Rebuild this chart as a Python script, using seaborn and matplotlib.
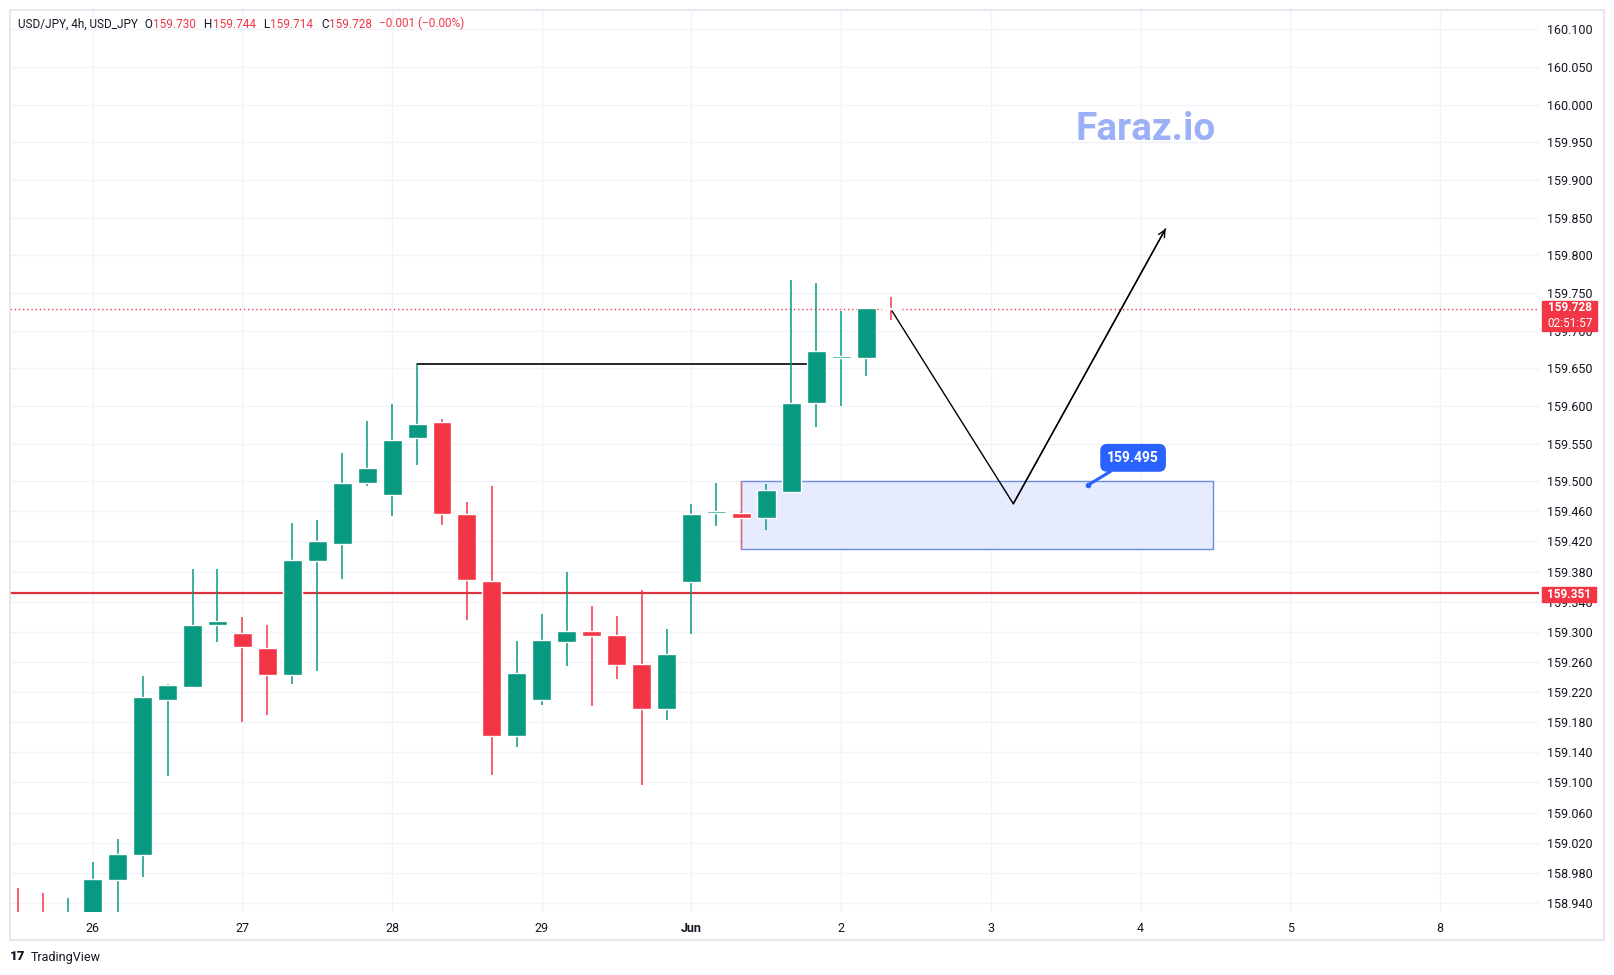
import pandas as pd
import seaborn as sns
import matplotlib.pyplot as plt
from matplotlib.patches import Rectangle

# ---- 4h candles (bar index 0 = first visible bar) ----
opens = [158.925, 158.920, 158.900, 158.915, 158.971, 159.004, 159.210, 159.227, 159.309,
         159.298, 159.278, 159.243, 159.394, 159.417, 159.498, 159.482, 159.557, 159.578,
         159.456, 159.367, 159.162, 159.210, 159.287, 159.301, 159.296, 159.257, 159.198,
         159.366, 159.458, 159.458, 159.451, 159.486, 159.604, 159.664, 159.664, 159.730]
highs = [158.960, 158.953, 158.947, 158.995, 159.025, 159.241, 159.231, 159.383, 159.383,
         159.320, 159.309, 159.445, 159.449, 159.538, 159.580, 159.603, 159.655, 159.583,
         159.472, 159.493, 159.288, 159.324, 159.379, 159.334, 159.321, 159.356, 159.304,
         159.470, 159.497, 159.459, 159.496, 159.767, 159.763, 159.726, 159.730, 159.744]
lows = [158.880, 158.890, 158.880, 158.905, 158.925, 158.975, 159.108, 159.227, 159.286,
        159.180, 159.190, 159.231, 159.248, 159.370, 159.494, 159.454, 159.522, 159.442,
        159.316, 159.110, 159.147, 159.203, 159.254, 159.201, 159.238, 159.097, 159.183,
        159.297, 159.440, 159.450, 159.435, 159.486, 159.572, 159.600, 159.640, 159.714]
closes = [158.905, 158.905, 158.920, 158.972, 159.005, 159.213, 159.229, 159.309, 159.314,
          159.280, 159.243, 159.395, 159.420, 159.498, 159.517, 159.555, 159.576, 159.457,
          159.369, 159.162, 159.245, 159.289, 159.301, 159.295, 159.256, 159.198, 159.270,
          159.456, 159.460, 159.451, 159.488, 159.604, 159.673, 159.666, 159.730, 159.728]

day_labels = ["26", "27", "28", "29", "Jun", "2", "3", "4", "5", "8"]
day_bars = [3, 9, 15, 21, 27, 33, 39, 45, 51, 57]

price_ticks = [160.100, 160.050, 160.000, 159.950, 159.900, 159.850, 159.800, 159.750,
               159.700, 159.650, 159.600, 159.550, 159.500, 159.460, 159.420, 159.380,
               159.340, 159.300, 159.260, 159.220, 159.180, 159.140, 159.100, 159.060,
               159.020, 158.980, 158.940]

support_level = 159.351
last_price = 159.728
countdown = "02:51:57"
high_line = 159.655
high_line_bars = [16, 32]
zone_bars = [29, 47.9]
zone_prices = [159.410, 159.500]
zone_label = 159.495
zone_label_bar = 42.9
path_bars = [35, 39.9, 46]
path_prices = [159.728, 159.470, 159.835]
header_vals = ["159.730", "159.744", "159.714", "159.728"]

GREEN = "#089981"
RED = "#f23645"
GRID = "#f0f3fa"
TXT = "#131722"

sns.set_theme(style="white")
plt.rcParams['font.family'] = ['Roboto', 'DejaVu Sans']

df = pd.DataFrame({"o": opens, "h": highs, "l": lows, "c": closes})
df["bar"] = range(len(df))
df["up"] = df["c"] >= df["o"]
df["col"] = df["up"].map({True: GREEN, False: RED})
df["bot"] = df[["o", "c"]].min(axis=1)
df["hgt"] = (df["c"] - df["o"]).abs().clip(lower=0.0015)

fig = plt.figure(figsize=(16.15, 9.75), dpi=100)
W, H = 1615, 975
ax = fig.add_axes([10 / W, 1 - 912 / H, 1529 / W, 902 / H])

# chart frame
fig.patches.append(Rectangle((10 / W, 1 - 940 / H), 1594 / W, 930 / H, transform=fig.transFigure,
                             fill=False, ec="#e0e3eb", lw=1.2))

for t in price_ticks:
    ax.axhline(t, color=GRID, lw=1, zorder=0)
for b in day_bars:
    ax.axvline(b, color=GRID, lw=1, zorder=0)

# candles (drawn above the drawings, like the live bar in the reference)
ax.vlines(df["bar"], df["l"], df["h"], colors=df["col"], lw=1.1, zorder=7)
ax.bar(df["bar"], df["hgt"], bottom=df["bot"], width=0.76, color=df["col"], zorder=8)

# demand zone
ax.add_patch(Rectangle((zone_bars[0], zone_prices[0]), zone_bars[1] - zone_bars[0],
                       zone_prices[1] - zone_prices[0], fc="#e6ecfd", ec="#6d8be0", lw=1, zorder=1))
ax.vlines(zone_bars[0], zone_prices[0], zone_prices[1], colors="#e06a7a", lw=1, zorder=2)

# horizontal levels
ax.axhline(support_level, color="#e0313f", lw=1.6, zorder=2)
ax.axhline(last_price, color=RED, lw=1, ls=(0, (1, 2)), zorder=2)
ax.plot(high_line_bars, [high_line, high_line], color="black", lw=1.2, zorder=5)

# projected path
path = pd.DataFrame({"bar": path_bars, "price": path_prices})
sns.lineplot(data=path, x="bar", y="price", sort=False, color="black", lw=1, ax=ax, zorder=6)
ax.annotate("", xy=(path_bars[2], path_prices[2]), xytext=(path_bars[1], path_prices[1]),
            arrowprops=dict(arrowstyle="->", color="black", lw=1, shrinkA=0, shrinkB=0,
                            mutation_scale=12), zorder=6)

# zone price label
ax.annotate(f"{zone_label:.3f}", xy=(zone_label_bar, zone_label), xytext=(44.7, 159.531),
            color="white", fontsize=10, fontweight="bold", ha="center", va="center",
            bbox=dict(boxstyle="round,pad=0.45", fc="#2962ff", ec="#2962ff"),
            arrowprops=dict(arrowstyle="-", color="#2962ff", lw=2.2, shrinkA=0, shrinkB=0), zorder=9)
ax.plot([zone_label_bar], [zone_label], "o", color="#2962ff", ms=3, zorder=9)

# watermark
ax.text(45.2, 159.967, "Faraz.io", color="#9bb0f7", fontsize=28, fontweight="bold",
        ha="center", va="center", zorder=1)

# axes
ax.set_xlim(-0.315, 60.97)
ax.set_ylim(158.928, 160.1256)
ax.set_xlabel("")
ax.set_ylabel("")
for s in ax.spines.values():
    s.set_visible(False)
ax.yaxis.tick_right()
ax.set_yticks(price_ticks)
ax.set_yticklabels([f"{t:.3f}" for t in price_ticks])
ax.set_xticks(day_bars)
ax.set_xticklabels(day_labels)
ax.tick_params(axis="y", length=0, pad=6, labelsize=9, labelcolor=TXT)
ax.tick_params(axis="x", length=0, pad=7, labelsize=9, labelcolor=TXT)
for lab in ax.get_xticklabels():
    if lab.get_text() == "Jun":
        lab.set_fontweight("bold")

# price badges on the axis
yx = ax.get_yaxis_transform()
ax.add_patch(Rectangle((1.002, 159.699), 0.036, 0.040, transform=yx, fc=RED, ec=RED,
                       clip_on=False, zorder=10))
ax.text(1.020, 159.731, f"{last_price:.3f}", transform=yx, color="white", fontsize=8.5,
        fontweight="bold", ha="center", va="center", clip_on=False, zorder=11)
ax.text(1.020, 159.709, countdown, transform=yx, color="white", fontsize=8.5,
        ha="center", va="center", clip_on=False, zorder=11)
ax.add_patch(Rectangle((1.002, 159.340), 0.035, 0.020, transform=yx, fc=RED, ec=RED,
                       clip_on=False, zorder=10))
ax.text(1.0195, 159.350, f"{support_level:.3f}", transform=yx, color="white", fontsize=8.5,
        fontweight="bold", ha="center", va="center", clip_on=False, zorder=11)

# header line
prev = fig.text(18 / W, 1 - 24 / H, "USD/JPY, 4h, USD_JPY", fontsize=8.5, color=TXT, va="center")
pieces = [(" O", TXT, 3), (header_vals[0], RED, 0), (" H", TXT, 4), (header_vals[1], RED, 0),
          (" L", TXT, 4), (header_vals[2], RED, 0), (" C", TXT, 4), (header_vals[3], RED, 0),
          ("\u22120.001 (\u22120.00%)", RED, 5)]
for txt, col, gap in pieces:
    prev = ax.annotate(txt, xy=(1, 0), xycoords=prev, xytext=(gap, 0), textcoords="offset points",
                       fontsize=8.5, color=col, va="bottom", ha="left", annotation_clip=False)

# footer logo
fig.text(10 / W, 1 - 957 / H, "17", fontsize=9.5, fontweight="heavy", color=TXT, va="center")
fig.text(31 / W, 1 - 957 / H, "TradingView", fontsize=9, color=TXT, va="center")

fig.savefig("out.png", dpi=100, facecolor="white")
